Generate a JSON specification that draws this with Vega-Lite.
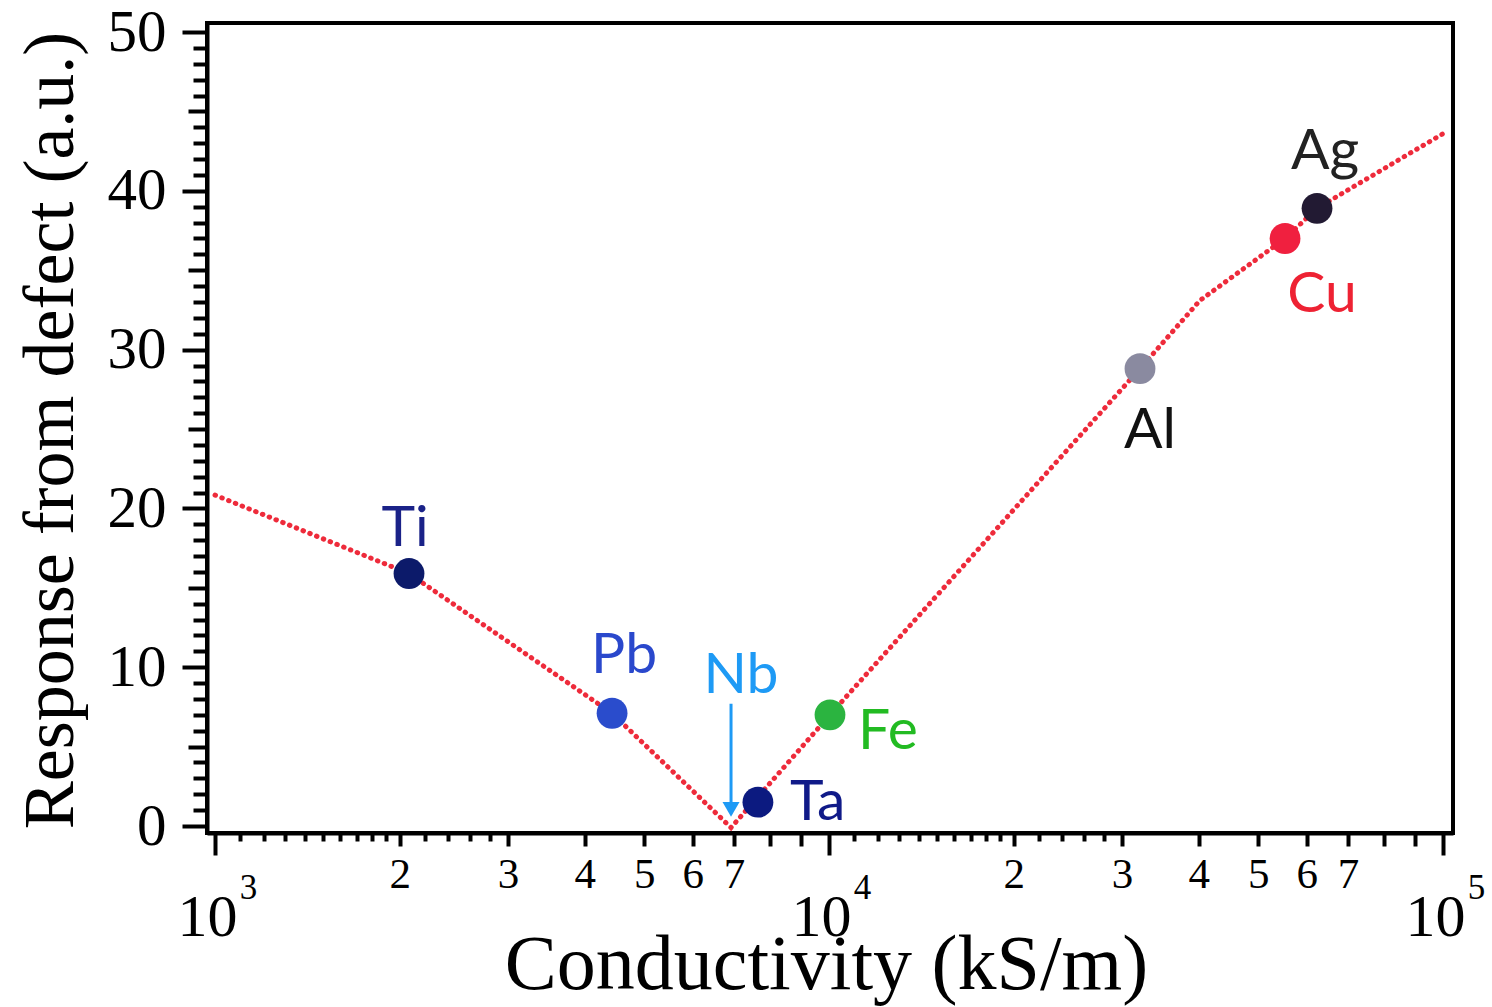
{
  "$schema": "https://vega.github.io/schema/vega-lite/v6.json",
  "width": 1246,
  "height": 810,
  "autosize": {"type": "none"},
  "padding": {"left": 207, "top": 23, "right": 39, "bottom": 174},
  "background": "white",
  "datasets": {
    "pts": [
      {"metal": "Ti", "conductivity": 2070, "response": 15.9},
      {"metal": "Pb", "conductivity": 4433, "response": 7.1},
      {"metal": "Ta", "conductivity": 7660, "response": 1.5},
      {"metal": "Fe", "conductivity": 10037, "response": 7.0},
      {"metal": "Al", "conductivity": 32100, "response": 28.8},
      {"metal": "Cu", "conductivity": 55300, "response": 37.0},
      {"metal": "Ag", "conductivity": 62350, "response": 38.9}
    ],
    "curve": [
      {"conductivity": 1000, "response": 20.84},
      {"conductivity": 2070, "response": 15.9},
      {"conductivity": 4433, "response": 7.1},
      {"conductivity": 6925, "response": -0.1},
      {"conductivity": 10037, "response": 7.0},
      {"conductivity": 32100, "response": 28.8},
      {"conductivity": 40200, "response": 33.1},
      {"conductivity": 55300, "response": 37.0},
      {"conductivity": 62350, "response": 38.9},
      {"conductivity": 100000, "response": 43.6}
    ],
    "nb": [
      {"metal": "Nb", "conductivity": 6925, "response": 0}
    ]
  },
  "layer": [
    {
      "data": {"name": "curve"},
      "mark": {"type": "line", "color": "#ee2b3b", "strokeWidth": 5, "strokeCap": "round", "strokeDash": [0.5, 6.8]},
      "encoding": {
        "x": {"field": "conductivity", "type": "quantitative",
          "scale": {"type": "log", "domain": [970.4, 103820], "nice": false, "zero": false},
          "axis": {"orient": "bottom", "values": [1000, 10000, 100000], "tickSize": 22, "labelExpr": "'10'", "labelFontSize": 60, "labelBaseline": "alphabetic", "labelAlign": "center", "labelPadding": 80, "labelOffset": -8,
            "title": "Conductivity (kS/m)", "titleFontSize": 78, "titleX": 619, "titleY": 155, "titleBaseline": "alphabetic", "titleAlign": "center", "titleAnchor": null}},
        "y": {"field": "response", "type": "quantitative",
          "scale": {"domain": [-0.44, 50.57], "nice": false, "zero": false},
          "axis": {"orient": "left", "values": [0, 10, 20, 30, 40, 50], "tickSize": 25, "labelFontSize": 59, "labelPadding": 16, "labelBaseline": "middle",
            "title": "Response from defect (a.u.)", "titleFontSize": 72, "titleAngle": -90, "titleX": -135, "titleY": 407, "titleBaseline": "alphabetic", "titleAlign": "center", "titleAnchor": null}}
      }
    },
    {
      "data": {"name": "nb"},
      "mark": {"type": "rule", "color": "#1e9af5", "strokeWidth": 3},
      "encoding": {
        "x": {"field": "conductivity", "type": "quantitative", "scale": {"type": "log", "domain": [970.4, 103820], "nice": false, "zero": false}, "axis": null},
        "y": {"datum": 7.7, "type": "quantitative", "scale": {"domain": [-0.44, 50.57], "nice": false, "zero": false}, "axis": null},
        "y2": {"datum": 1.5}
      }
    },
    {
      "data": {"name": "nb"},
      "mark": {"type": "point", "shape": "triangle-down", "filled": true, "color": "#1e9af5", "opacity": 1, "size": 290},
      "encoding": {
        "x": {"field": "conductivity", "type": "quantitative", "scale": {"type": "log", "domain": [970.4, 103820], "nice": false, "zero": false}, "axis": null},
        "y": {"datum": 1.04, "type": "quantitative", "scale": {"domain": [-0.44, 50.57], "nice": false, "zero": false}, "axis": null}
      }
    },
    {
      "data": {"name": "nb"},
      "mark": {"type": "text", "font": "Lato", "fontSize": 57, "color": "#1e9af5", "align": "center", "baseline": "alphabetic", "dx": 10},
      "encoding": {
        "x": {"field": "conductivity", "type": "quantitative", "scale": {"type": "log", "domain": [970.4, 103820], "nice": false, "zero": false}, "axis": null},
        "y": {"datum": 8.4, "type": "quantitative", "scale": {"domain": [-0.44, 50.57], "nice": false, "zero": false}, "axis": null},
        "text": {"field": "metal"}
      }
    },
    {
      "data": {"name": "pts"},
      "mark": {"type": "point", "shape": "circle", "filled": true, "opacity": 1, "size": 950},
      "encoding": {
        "x": {"field": "conductivity", "type": "quantitative",
          "scale": {"type": "log", "domain": [970.4, 103820], "nice": false, "zero": false},
          "axis": {"orient": "bottom", "values": [1000, 10000, 100000], "ticks": false, "domain": false, "labelExpr": "datum.value < 5000 ? '3' : datum.value < 50000 ? '4' : '5'", "labelFontSize": 35, "labelBaseline": "alphabetic", "labelAlign": "center", "labelPadding": 65, "labelOffset": 33, "title": null}},
        "y": {"field": "response", "type": "quantitative",
          "scale": {"domain": [-0.44, 50.57], "nice": false, "zero": false},
          "axis": {"orient": "left", "values": [5, 15, 25, 35, 45], "tickSize": 19, "labels": false, "domain": false, "title": null}},
        "color": {"field": "metal", "type": "nominal", "legend": null,
          "scale": {"domain": ["Ti", "Pb", "Ta", "Fe", "Al", "Cu", "Ag"], "range": ["#0c1a6a", "#2a4ccc", "#0c1a80", "#2bb440", "#8a8aa0", "#f0203f", "#221a33"]}}
      }
    },
    {
      "data": {"name": "pts"},
      "transform": [{"filter": "datum.metal === 'Ti'"}],
      "mark": {"type": "text", "font": "Lato", "fontSize": 57, "color": "#1a2288", "align": "center", "baseline": "alphabetic", "dx": -4, "dy": -28},
      "encoding": {
        "x": {"field": "conductivity", "type": "quantitative",
          "scale": {"type": "log", "domain": [970.4, 103820], "nice": false, "zero": false},
          "axis": {"orient": "bottom", "values": [2000, 3000, 4000, 5000, 6000, 7000, 8000, 9000, 20000, 30000, 40000, 50000, 60000, 70000, 80000, 90000], "tickSize": 13, "domain": false, "labelExpr": "datum.value < 10000 ? (datum.value >= 8000 ? '' : format(datum.value / 1000, 'd')) : (datum.value >= 80000 ? '' : format(datum.value / 10000, 'd'))", "labelFontSize": 43, "labelBaseline": "alphabetic", "labelAlign": "center", "labelPadding": 41, "title": null}},
        "y": {"field": "response", "type": "quantitative",
          "scale": {"domain": [-0.44, 50.57], "nice": false, "zero": false},
          "axis": {"orient": "left", "values": [1, 2, 3, 4, 6, 7, 8, 9, 11, 12, 13, 14, 16, 17, 18, 19, 21, 22, 23, 24, 26, 27, 28, 29, 31, 32, 33, 34, 36, 37, 38, 39, 41, 42, 43, 44, 46, 47, 48, 49], "tickSize": 14, "labels": false, "domain": false, "title": null}},
        "text": {"field": "metal"}
      }
    },
    {
      "data": {"name": "pts"},
      "transform": [{"filter": "datum.metal === 'Pb'"}],
      "mark": {"type": "text", "font": "Lato", "fontSize": 57, "color": "#2a48cc", "align": "center", "baseline": "alphabetic", "dx": 12, "dy": -40},
      "encoding": {
        "x": {"field": "conductivity", "type": "quantitative",
          "scale": {"type": "log", "domain": [970.4, 103820], "nice": false, "zero": false},
          "axis": {"orient": "bottom", "values": [1100, 1200, 1300, 1400, 1500, 1600, 1700, 1800, 1900, 2200, 2400, 2600, 2800, 11000, 12000, 13000, 14000, 15000, 16000, 17000, 18000, 19000, 22000, 24000, 26000, 28000], "tickSize": 8, "labels": false, "domain": false, "title": null}},
        "y": {"field": "response", "type": "quantitative", "scale": {"domain": [-0.44, 50.57], "nice": false, "zero": false}, "axis": null},
        "text": {"field": "metal"}
      }
    },
    {
      "data": {"name": "pts"},
      "transform": [{"filter": "datum.metal === 'Ta'"}],
      "mark": {"type": "text", "font": "Lato", "fontSize": 57, "color": "#101a88", "align": "left", "baseline": "alphabetic", "dx": 32, "dy": 18},
      "encoding": {
        "x": {"field": "conductivity", "type": "quantitative", "scale": {"type": "log", "domain": [970.4, 103820], "nice": false, "zero": false}, "axis": null},
        "y": {"field": "response", "type": "quantitative", "scale": {"domain": [-0.44, 50.57], "nice": false, "zero": false}, "axis": null},
        "text": {"field": "metal"}
      }
    },
    {
      "data": {"name": "pts"},
      "transform": [{"filter": "datum.metal === 'Fe'"}],
      "mark": {"type": "text", "font": "Lato", "fontSize": 57, "color": "#22bb22", "align": "left", "baseline": "alphabetic", "dx": 28, "dy": 34},
      "encoding": {
        "x": {"field": "conductivity", "type": "quantitative", "scale": {"type": "log", "domain": [970.4, 103820], "nice": false, "zero": false}, "axis": null},
        "y": {"field": "response", "type": "quantitative", "scale": {"domain": [-0.44, 50.57], "nice": false, "zero": false}, "axis": null},
        "text": {"field": "metal"}
      }
    },
    {
      "data": {"name": "pts"},
      "transform": [{"filter": "datum.metal === 'Al'"}],
      "mark": {"type": "text", "font": "Lato", "fontSize": 57, "color": "#111111", "align": "center", "baseline": "alphabetic", "dx": 10, "dy": 79},
      "encoding": {
        "x": {"field": "conductivity", "type": "quantitative", "scale": {"type": "log", "domain": [970.4, 103820], "nice": false, "zero": false}, "axis": null},
        "y": {"field": "response", "type": "quantitative", "scale": {"domain": [-0.44, 50.57], "nice": false, "zero": false}, "axis": null},
        "text": {"field": "metal"}
      }
    },
    {
      "data": {"name": "pts"},
      "transform": [{"filter": "datum.metal === 'Cu'"}],
      "mark": {"type": "text", "font": "Lato", "fontSize": 57, "color": "#ee2233", "align": "center", "baseline": "alphabetic", "dx": 37, "dy": 74},
      "encoding": {
        "x": {"field": "conductivity", "type": "quantitative", "scale": {"type": "log", "domain": [970.4, 103820], "nice": false, "zero": false}, "axis": null},
        "y": {"field": "response", "type": "quantitative", "scale": {"domain": [-0.44, 50.57], "nice": false, "zero": false}, "axis": null},
        "text": {"field": "metal"}
      }
    },
    {
      "data": {"name": "pts"},
      "transform": [{"filter": "datum.metal === 'Ag'"}],
      "mark": {"type": "text", "font": "Lato", "fontSize": 57, "color": "#222222", "align": "center", "baseline": "alphabetic", "dx": 8, "dy": -39},
      "encoding": {
        "x": {"field": "conductivity", "type": "quantitative", "scale": {"type": "log", "domain": [970.4, 103820], "nice": false, "zero": false}, "axis": null},
        "y": {"field": "response", "type": "quantitative", "scale": {"domain": [-0.44, 50.57], "nice": false, "zero": false}, "axis": null},
        "text": {"field": "metal"}
      }
    }
  ],
  "resolve": {"axis": {"x": "independent", "y": "independent"}},
  "config": {
    "view": {"stroke": "black", "strokeWidth": 4},
    "axis": {
      "grid": false,
      "domainColor": "black",
      "domainWidth": 4,
      "tickColor": "black",
      "tickWidth": 4,
      "labelFont": "Liberation Serif",
      "labelColor": "black",
      "titleFont": "Liberation Serif",
      "titleColor": "black",
      "titleFontWeight": "normal",
      "labelOverlap": false,
      "labelFlush": false,
      "labelBound": false
    }
  }
}
